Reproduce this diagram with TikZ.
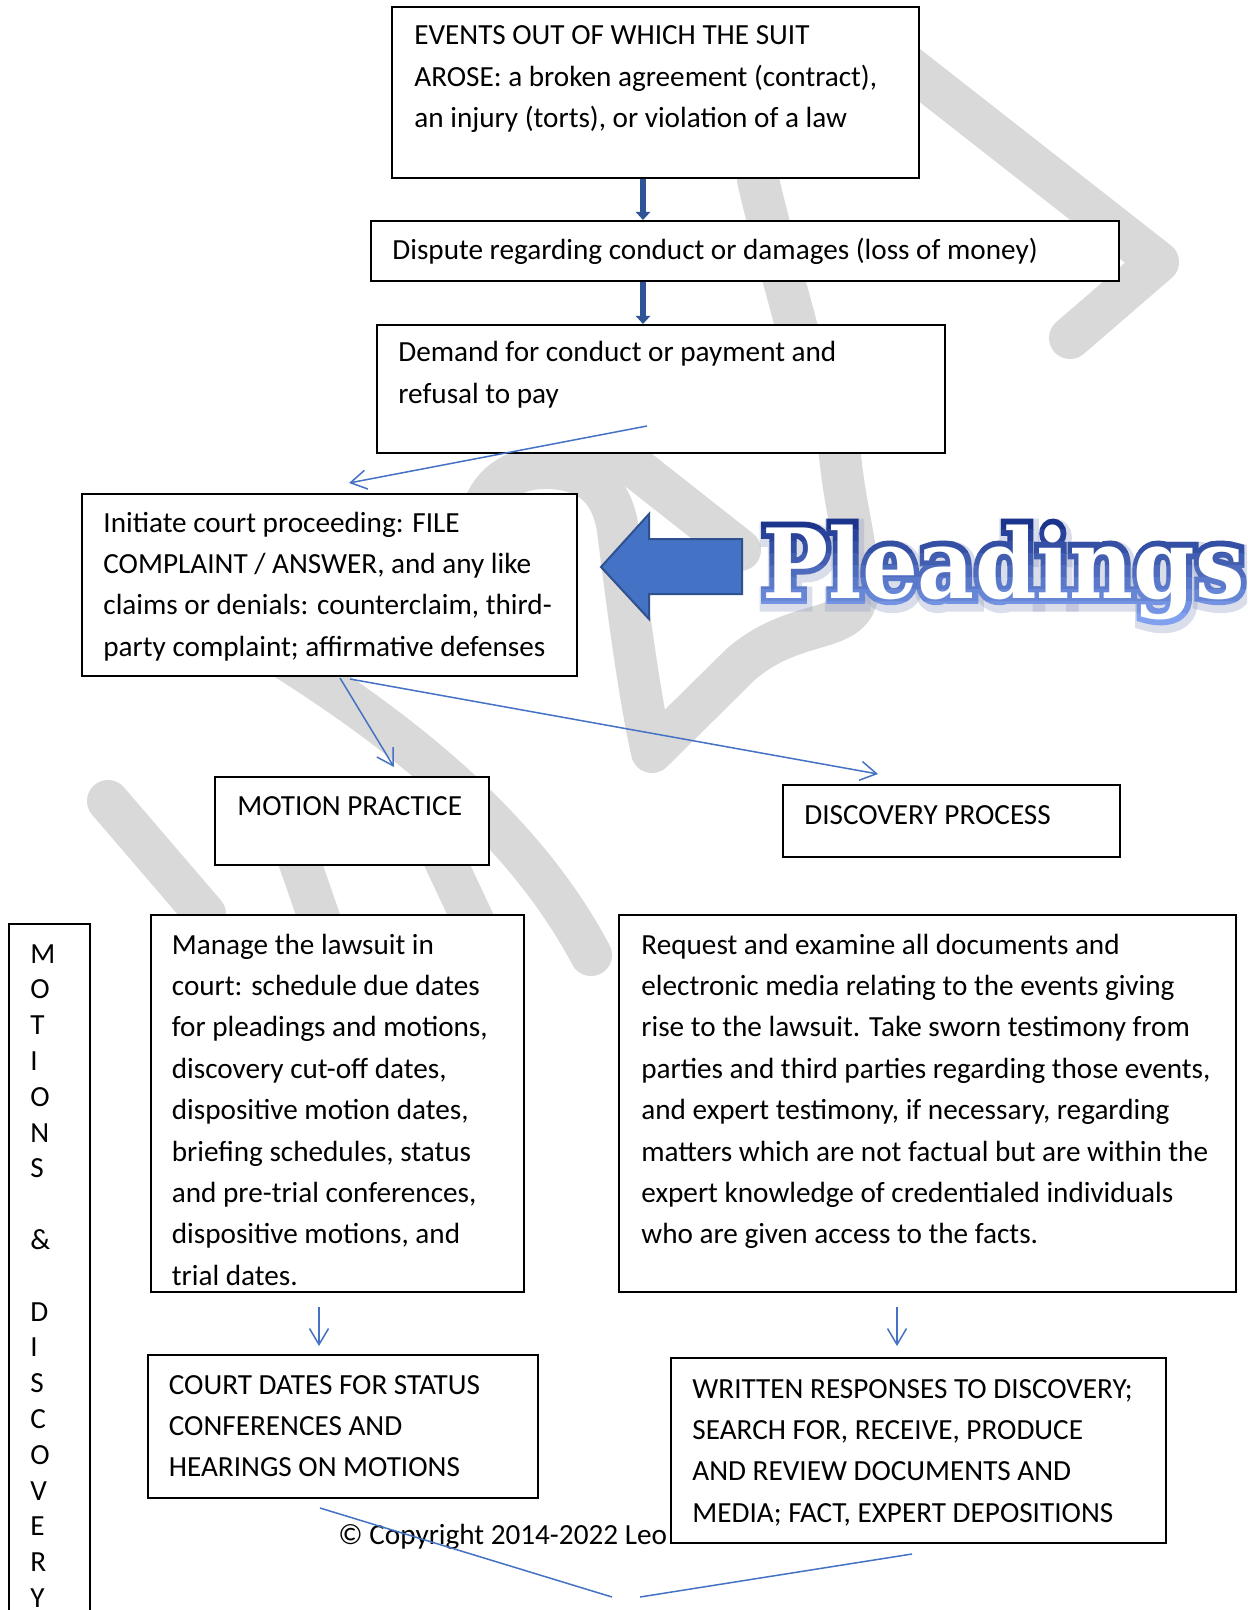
\documentclass[tikz,border=0pt]{standalone}
\usepackage{fontspec}
\setmainfont{Carlito}
\newfontfamily\plfont{DejaVu Serif}[UprightFont={* Bold}]
\newfontfamily\plfontE{DejaVu Serif}[UprightFont={* Bold}, FakeBold=12]
\newfontfamily\plfontG{DejaVu Serif}[UprightFont={* Bold}, FakeBold=20]
\usetikzlibrary{arrows.meta,fit,calc}
\definecolor{wm}{RGB}{217,217,217}
\definecolor{thinb}{RGB}{68,114,196}
\definecolor{thickb}{RGB}{47,85,151}
\definecolor{arrfill}{RGB}{68,114,196}
\definecolor{arrline}{RGB}{47,82,143}
\definecolor{plnavy}{RGB}{14,40,128}
\definecolor{pllight}{RGB}{130,162,240}
\definecolor{plglow}{RGB}{150,160,195}
\newcommand{\fs}{\fontsize{14.6pt}{20.7pt}\selectfont}
\newcommand{\fsside}{\fontsize{14.6pt}{17.9pt}\selectfont}
\newcommand{\plword}{\scalebox{1}[1.1]{Pleadings}}
\begin{document}
\begin{tikzpicture}[x=0.5pt,y=-0.5pt,
  bx/.style={draw=black, line width=1pt, fill=white, inner sep=0pt},
  txt/.style={anchor=base west, inner sep=0pt, font=\fs},
  conn/.style={draw=thinb, line width=0.75pt},
  connarrow/.style={conn, -{Straight Barb[length=8pt,width=9.5pt]}},
  thickarrow/.style={draw=thickb, line width=3pt, -{Triangle[length=4pt,width=7pt]}},
  wmark/.style={draw=wm, line width=21pt, line cap=round, line join=round},
  pl/.style={anchor=base west, inner sep=0pt},
]
\useasboundingbox (0,0) rectangle (1247,1610);
\clip (0,0) rectangle (1247,1610);
\fill[white] (0,0) rectangle (1247,1610);

% watermark (light grey signature strokes behind the chart)
\draw[wmark] (900,60) -- (1158,262) -- (1070,338);
\draw[wmark] (758,180) .. controls (772,240) and (790,300) .. (805,360);
\draw[wmark] (575,420) -- (740,550);
\draw[wmark] (478,570) .. controls (470,500) and (500,468) .. (545,468)
   .. controls (590,468) and (612,490) .. (618,530)
   .. controls (628,610) and (640,700) .. (652,752)
   -- (740,665) .. controls (800,612) and (862,640) .. (858,580)
   .. controls (855,530) and (842,500) .. (838,430);
\draw[wmark] (255,640) .. controls (420,740) and (530,840) .. (591,955);
\draw[wmark] (108,801) -- (205,914);
\draw[wmark] (292,840) -- (325,935);
\draw[wmark] (440,850) -- (480,935);

% boxes
\node[bx, fit={(392,7)(919,178)}] (b1) {};
\node[bx, fit={(371,221)(1119,281)}] (b2) {};
\node[bx, fit={(377,325)(945,453)}] (b3) {};
\node[bx, fit={(82,494)(577,676)}] (b4) {};
\node[bx, fit={(215,777)(489,865)}] (bmp) {};
\node[bx, fit={(783,785)(1120,857)}] (bdp) {};
\node[bx, fit={(9,924)(90,1700)}] (bside) {};
\node[bx, fit={(151,915)(524,1292)}] (bmg) {};
\node[bx, fit={(619,915)(1236,1292)}] (brq) {};
\node[bx, fit={(148,1355)(538,1498)}] (bcd) {};

% copyright (partly hidden by the last box)
\node[txt] (tcopy) at (338,1544) {© Copyright 2014-2022 Leo};

\node[bx, fit={(671,1358)(1166,1543)}] (bwr) {};

% texts
\node[txt] (t1) at (414,45) {\vtop{\hbox{EVENTS OUT OF WHICH THE SUIT}\hbox{AROSE: a broken agreement (contract),}\hbox{an injury (torts), or violation of a law}}};
\node[txt] (t2) at (392,260) {Dispute regarding conduct or damages (loss of money)};
\node[txt] (t3) at (398,362) {\vtop{\hbox{Demand for conduct or payment and}\hbox{refusal to pay}}};
\node[txt] (t4) at (103,532) {\vtop{\hbox{Initiate court proceeding: FILE}\hbox{COMPLAINT / ANSWER, and any like}\hbox{claims or denials: counterclaim, third-}\hbox{party complaint; affirmative defenses}}};
\node[txt] (tmp) at (237,815) {MOTION PRACTICE};
\node[txt] (tdp) at (804,824) {DISCOVERY PROCESS};
\node[txt] (tmg) at (171.5,954) {\vtop{\hbox{Manage the lawsuit in}\hbox{court: schedule due dates}\hbox{for pleadings and motions,}\hbox{discovery cut-off dates,}\hbox{dispositive motion dates,}\hbox{briefing schedules, status}\hbox{and pre-trial conferences,}\hbox{dispositive motions, and}\hbox{trial dates.}}};
\node[txt] (trq) at (641,954) {\vtop{\hbox{Request and examine all documents and}\hbox{electronic media relating to the events giving}\hbox{rise to the lawsuit. Take sworn testimony from}\hbox{parties and third parties regarding those events,}\hbox{and expert testimony, if necessary, regarding}\hbox{matters which are not factual but are within the}\hbox{expert knowledge of credentialed individuals}\hbox{who are given access to the facts.}}};
\node[txt] (tcd) at (168.5,1394) {\vtop{\hbox{COURT DATES FOR STATUS}\hbox{CONFERENCES AND}\hbox{HEARINGS ON MOTIONS}}};
\node[txt] (twr) at (692,1398) {\vtop{\hbox{WRITTEN RESPONSES TO DISCOVERY;}\hbox{SEARCH FOR, RECEIVE, PRODUCE}\hbox{AND REVIEW DOCUMENTS AND}\hbox{MEDIA; FACT, EXPERT DEPOSITIONS}}};
\node[txt, font=\fsside] (tside) at (30,963) {\vtop{\hbox{M}\hbox{O}\hbox{T}\hbox{I}\hbox{O}\hbox{N}\hbox{S}\hbox{}\hbox{\&}\hbox{}\hbox{D}\hbox{I}\hbox{S}\hbox{C}\hbox{O}\hbox{V}\hbox{E}\hbox{R}\hbox{Y}}};

% thick arrows
\coordinate (c1) at ($(b1.south)+(-12.5,0)$);
\draw[thickarrow] (c1) -- (c1 |- b2.north);
\draw[thickarrow] (c1 |- b2.south) -- (c1 |- b3.north);

% thin connectors
\coordinate (a3s) at (647,426);
\coordinate (a3e) at (349,483);
\draw[connarrow] (a3s) -- (a3e);
\coordinate (a4s) at (340,678);
\coordinate (a4e) at (394,767);
\draw[connarrow] (a4s) -- (a4e);
\coordinate (a5s) at (350,679);
\coordinate (a5e) at (878,774);
\draw[connarrow] (a5s) -- (a5e);
\coordinate (a6s) at (319,1307);
\coordinate (a6e) at (319,1346);
\draw[connarrow] (a6s) -- (a6e);
\coordinate (a7s) at (897,1307);
\coordinate (a7e) at (897,1346);
\draw[connarrow] (a7s) -- (a7e);
\coordinate (l1s) at (320,1508);
\coordinate (l1e) at (612,1597);
\draw[conn] (l1s) -- (l1e);
\coordinate (l2s) at (912,1554);
\coordinate (l2e) at (640,1597);
\draw[conn] (l2s) -- (l2e);

% block arrow
\draw[fill=arrfill, draw=arrline, line width=1pt] (601,567) -- (649,514) -- (649,539) -- (742,539) -- (742,594) -- (649,594) -- (649,619) -- cycle;

% Pleadings word art
\coordinate (plpos) at (762,598);
\node[pl, font=\plfontG\fontsize{44pt}{44pt}\selectfont, text=plglow, opacity=0.35] (plg) at ($(plpos)+(2,4)$) {\plword};
\foreach \i in {0,...,9} {
  \pgfmathtruncatemacro{\p}{100-11*\i}
  \begin{scope}
    \clip (740,{505+12*\i}) rectangle (1247,{517+12*\i});
    \node[pl, font=\plfontE\fontsize{44pt}{44pt}\selectfont, text=plnavy!\p!pllight] (plb\i) at (plpos) {\plword};
  \end{scope}
}
\node[pl, font=\plfont\fontsize{44pt}{44pt}\selectfont, text=white] (plw) at (plpos) {\plword};
\end{tikzpicture}
\end{document}
